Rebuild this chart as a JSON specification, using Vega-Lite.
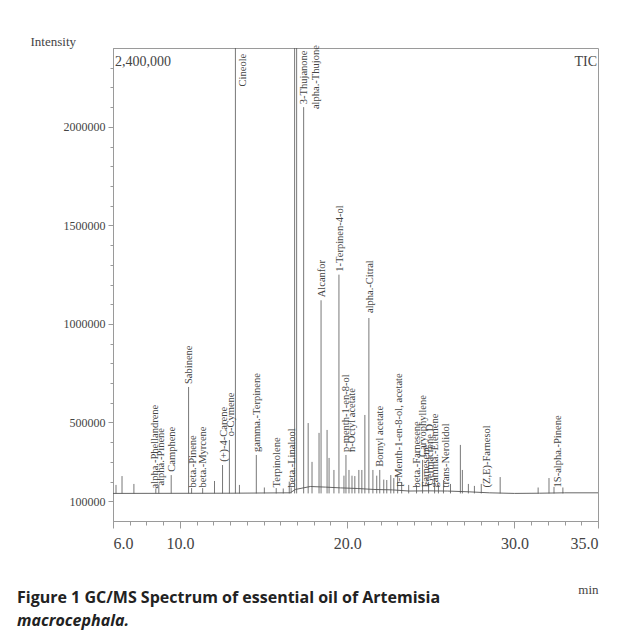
{
  "$schema": "https://vega.github.io/schema/vega-lite/v6.json",
  "width": 485,
  "height": 473,
  "autosize": {"type": "none"},
  "padding": {"left": 113, "top": 48, "right": 27, "bottom": 114},
  "background": "white",
  "config": {
    "view": {"stroke": "#9a9a9a", "strokeWidth": 1},
    "axis": {"grid": false, "labelFont": "Liberation Serif", "titleFont": "Liberation Serif", "domainColor": "#9a9a9a", "tickColor": "#9a9a9a", "labelColor": "#444", "titleColor": "#444", "titleFontWeight": "normal"}
  },
  "title": {
    "text": "Figure 1 GC/MS Spectrum of essential oil of Artemisia",
    "subtitle": "macrocephala.",
    "orient": "bottom",
    "anchor": "start",
    "frame": "group",
    "dx": -96,
    "offset": -6,
    "font": "Open Sans",
    "fontSize": 16,
    "fontWeight": "bold",
    "color": "#222",
    "subtitleFont": "Open Sans",
    "subtitleFontSize": 16,
    "subtitleFontStyle": "italic",
    "subtitleFontWeight": "bold",
    "subtitleColor": "#222",
    "subtitlePadding": 7
  },
  "datasets": {
    "baseline": [
      {"rt": 6, "level": 140000}, {"rt": 13, "level": 141000}, {"rt": 16.6, "level": 143000}, {"rt": 16.9, "level": 160000},
      {"rt": 17.8, "level": 175000}, {"rt": 18.7, "level": 172000}, {"rt": 19.6, "level": 168000}, {"rt": 20.6, "level": 165000},
      {"rt": 21.6, "level": 160000}, {"rt": 22.7, "level": 158000}, {"rt": 23.7, "level": 152000}, {"rt": 24.8, "level": 153000},
      {"rt": 26, "level": 152000}, {"rt": 27.3, "level": 148000}, {"rt": 28.5, "level": 143000}, {"rt": 30, "level": 140000},
      {"rt": 31.5, "level": 141000}, {"rt": 33, "level": 143000}, {"rt": 35, "level": 143000}
    ],
    "peaks": [
      {"rt": 6.18, "h": 183000}, {"rt": 6.54, "h": 228000}, {"rt": 7.25, "h": 188000}, {"rt": 8.56, "h": 165000},
      {"rt": 8.74, "h": 183000}, {"rt": 9.48, "h": 233000}, {"rt": 10.52, "h": 680000}, {"rt": 10.70, "h": 167000},
      {"rt": 11.36, "h": 167000}, {"rt": 12.07, "h": 203000}, {"rt": 12.55, "h": 284000}, {"rt": 12.96, "h": 411000},
      {"rt": 13.32, "h": 3500000}, {"rt": 13.56, "h": 183000}, {"rt": 14.57, "h": 335000}, {"rt": 15.05, "h": 170000},
      {"rt": 15.76, "h": 167000}, {"rt": 16.18, "h": 165000}, {"rt": 16.54, "h": 200000}, {"rt": 16.65, "h": 170000},
      {"rt": 16.86, "h": 3500000}, {"rt": 16.98, "h": 3500000}, {"rt": 17.40, "h": 2100000}, {"rt": 17.67, "h": 497000},
      {"rt": 17.90, "h": 300000}, {"rt": 18.32, "h": 447000}, {"rt": 18.44, "h": 1120000}, {"rt": 18.80, "h": 462000},
      {"rt": 18.92, "h": 320000}, {"rt": 19.21, "h": 259000}, {"rt": 19.51, "h": 1250000}, {"rt": 19.81, "h": 230000},
      {"rt": 19.93, "h": 335000}, {"rt": 20.11, "h": 259000}, {"rt": 20.29, "h": 230000}, {"rt": 20.46, "h": 228000},
      {"rt": 20.70, "h": 259000}, {"rt": 20.88, "h": 259000}, {"rt": 21.06, "h": 538000}, {"rt": 21.30, "h": 1030000},
      {"rt": 21.54, "h": 259000}, {"rt": 21.77, "h": 230000}, {"rt": 21.95, "h": 259000}, {"rt": 22.19, "h": 210000},
      {"rt": 22.37, "h": 208000}, {"rt": 22.61, "h": 233000}, {"rt": 22.79, "h": 218000}, {"rt": 23.02, "h": 233000},
      {"rt": 23.26, "h": 198000}, {"rt": 23.68, "h": 183000}, {"rt": 24.15, "h": 183000}, {"rt": 24.51, "h": 310000},
      {"rt": 24.87, "h": 198000}, {"rt": 25.23, "h": 218000}, {"rt": 25.46, "h": 183000}, {"rt": 25.76, "h": 208000},
      {"rt": 26.18, "h": 188000}, {"rt": 26.77, "h": 386000}, {"rt": 26.89, "h": 259000}, {"rt": 27.25, "h": 188000},
      {"rt": 27.61, "h": 178000}, {"rt": 28.02, "h": 188000}, {"rt": 29.15, "h": 223000}, {"rt": 31.42, "h": 170000},
      {"rt": 32.07, "h": 218000}, {"rt": 32.37, "h": 173000}, {"rt": 32.90, "h": 170000}
    ],
    "labels": [
      {"name": "alpha.-Phellandrene", "rt": 8.50, "at": 150000},
      {"name": "alpha.-Pinene", "rt": 8.86, "at": 165000},
      {"name": "Camphene", "rt": 9.51, "at": 235000},
      {"name": "Sabinene", "rt": 10.52, "at": 680000},
      {"name": "beta.-Pinene", "rt": 10.76, "at": 155000},
      {"name": "beta.-Myrcene", "rt": 11.36, "at": 155000},
      {"name": "(+)-4-Carene", "rt": 12.62, "at": 285000},
      {"name": "o-Cymene", "rt": 13.05, "at": 415000},
      {"name": "Cineole", "rt": 13.8, "at": 2190000},
      {"name": "gamma.-Terpinene", "rt": 14.62, "at": 335000},
      {"name": "Terpinolene", "rt": 15.82, "at": 155000},
      {"name": "beta.-Linalool", "rt": 16.71, "at": 155000},
      {"name": "3-Thujanone", "rt": 17.43, "at": 2100000},
      {"name": "alpha.-Thujone", "rt": 18.14, "at": 2075000},
      {"name": "Alcanfor", "rt": 18.5, "at": 1120000},
      {"name": "1-Terpinen-4-ol", "rt": 19.57, "at": 1250000},
      {"name": "p-menth-1-en-8-ol", "rt": 19.93, "at": 335000},
      {"name": "n-Octyl acetate", "rt": 20.29, "at": 335000},
      {"name": "alpha.-Citral", "rt": 21.35, "at": 1040000},
      {"name": "Bornyl acetate", "rt": 21.95, "at": 260000},
      {"name": "p-Menth-1-en-8-ol, acetate", "rt": 23.1, "at": 160000},
      {"name": "beta.-Farnesene", "rt": 24.15, "at": 155000},
      {"name": "Caryophyllene", "rt": 24.51, "at": 310000},
      {"name": "Farnesene", "rt": 24.7, "at": 155000},
      {"name": "Germacrene D", "rt": 24.98, "at": 165000},
      {"name": "gamma.-Elemene", "rt": 25.25, "at": 155000},
      {"name": "trans-Nerolidol", "rt": 25.94, "at": 155000},
      {"name": "(Z,E)-Farnesol", "rt": 28.38, "at": 155000},
      {"name": "1S-alpha.-Pinene", "rt": 32.6, "at": 155000}
    ]
  },
  "layer": [
    {
      "data": {"name": "baseline"},
      "mark": {"type": "line", "color": "#555", "strokeWidth": 0.9},
      "encoding": {
        "x": {"field": "rt", "type": "quantitative", "scale": {"domain": [6, 35], "nice": false, "zero": false},
          "axis": {"orient": "bottom", "values": [7,8,9,11,12,13,14,15,16,17,18,19,21,22,23,24,25,26,27,28,29,31,32,33,34], "labels": false, "tickSize": 4, "title": null}},
        "y": {"field": "level", "type": "quantitative", "scale": {"domain": [0, 2400000], "nice": false, "zero": true},
          "axis": {"orient": "left", "values": [200000,300000,400000,600000,700000,800000,900000,1100000,1200000,1300000,1400000,1600000,1700000,1800000,1900000,2100000,2200000,2300000], "labels": false, "tickSize": 3, "title": null}}
      }
    },
    {
      "data": {"name": "peaks"},
      "mark": {"type": "rule", "color": "#555", "strokeWidth": 0.8, "clip": true},
      "encoding": {
        "x": {"field": "rt", "type": "quantitative", "scale": {"domain": [6, 35], "nice": false, "zero": false},
          "axis": {"orient": "bottom", "values": [6, 10, 20, 30, 35], "format": ".1f", "tickSize": 7, "labelFont": "Liberation Serif", "labelFontSize": 16, "labelPadding": 7, "title": "min", "titleFont": "Liberation Serif", "titleFontSize": 13, "titleAnchor": "end", "titlePadding": 32}},
        "y": {"field": "h", "type": "quantitative", "scale": {"domain": [0, 2400000], "nice": false, "zero": true},
          "axis": {"orient": "left", "values": [100000, 500000, 1000000, 1500000, 2000000], "format": "d", "tickSize": 5, "labelFont": "Liberation Serif", "labelFontSize": 12, "labelPadding": 3, "title": "Intensity", "titleFont": "Liberation Serif", "titleAngle": 0, "titleAlign": "left", "titleBaseline": "alphabetic", "titleX": -83, "titleY": -3, "titleFontSize": 13}},
        "y2": {"datum": 140000}
      }
    },
    {
      "data": {"name": "labels"},
      "mark": {"type": "text", "angle": 270, "align": "left", "baseline": "middle", "font": "Liberation Serif", "fontSize": 10.5, "color": "#444", "dx": 3},
      "encoding": {
        "x": {"field": "rt", "type": "quantitative", "axis": null},
        "y": {"field": "at", "type": "quantitative", "axis": null},
        "text": {"field": "name"}
      }
    },
    {
      "data": {"values": [{}]},
      "mark": {"type": "text", "align": "left", "baseline": "top", "dx": 2, "dy": 7, "font": "Liberation Serif", "fontSize": 14, "color": "#444"},
      "encoding": {
        "x": {"datum": 6, "type": "quantitative", "axis": null},
        "y": {"datum": 2400000, "type": "quantitative", "axis": null},
        "text": {"value": "2,400,000"}
      }
    },
    {
      "data": {"values": [{}]},
      "mark": {"type": "text", "align": "right", "baseline": "top", "dx": -1, "dy": 7, "font": "Liberation Serif", "fontSize": 14, "color": "#444"},
      "encoding": {
        "x": {"datum": 35, "type": "quantitative", "axis": null},
        "y": {"datum": 2400000, "type": "quantitative", "axis": null},
        "text": {"value": "TIC"}
      }
    }
  ],
  "resolve": {"axis": {"x": "independent", "y": "independent"}}
}
